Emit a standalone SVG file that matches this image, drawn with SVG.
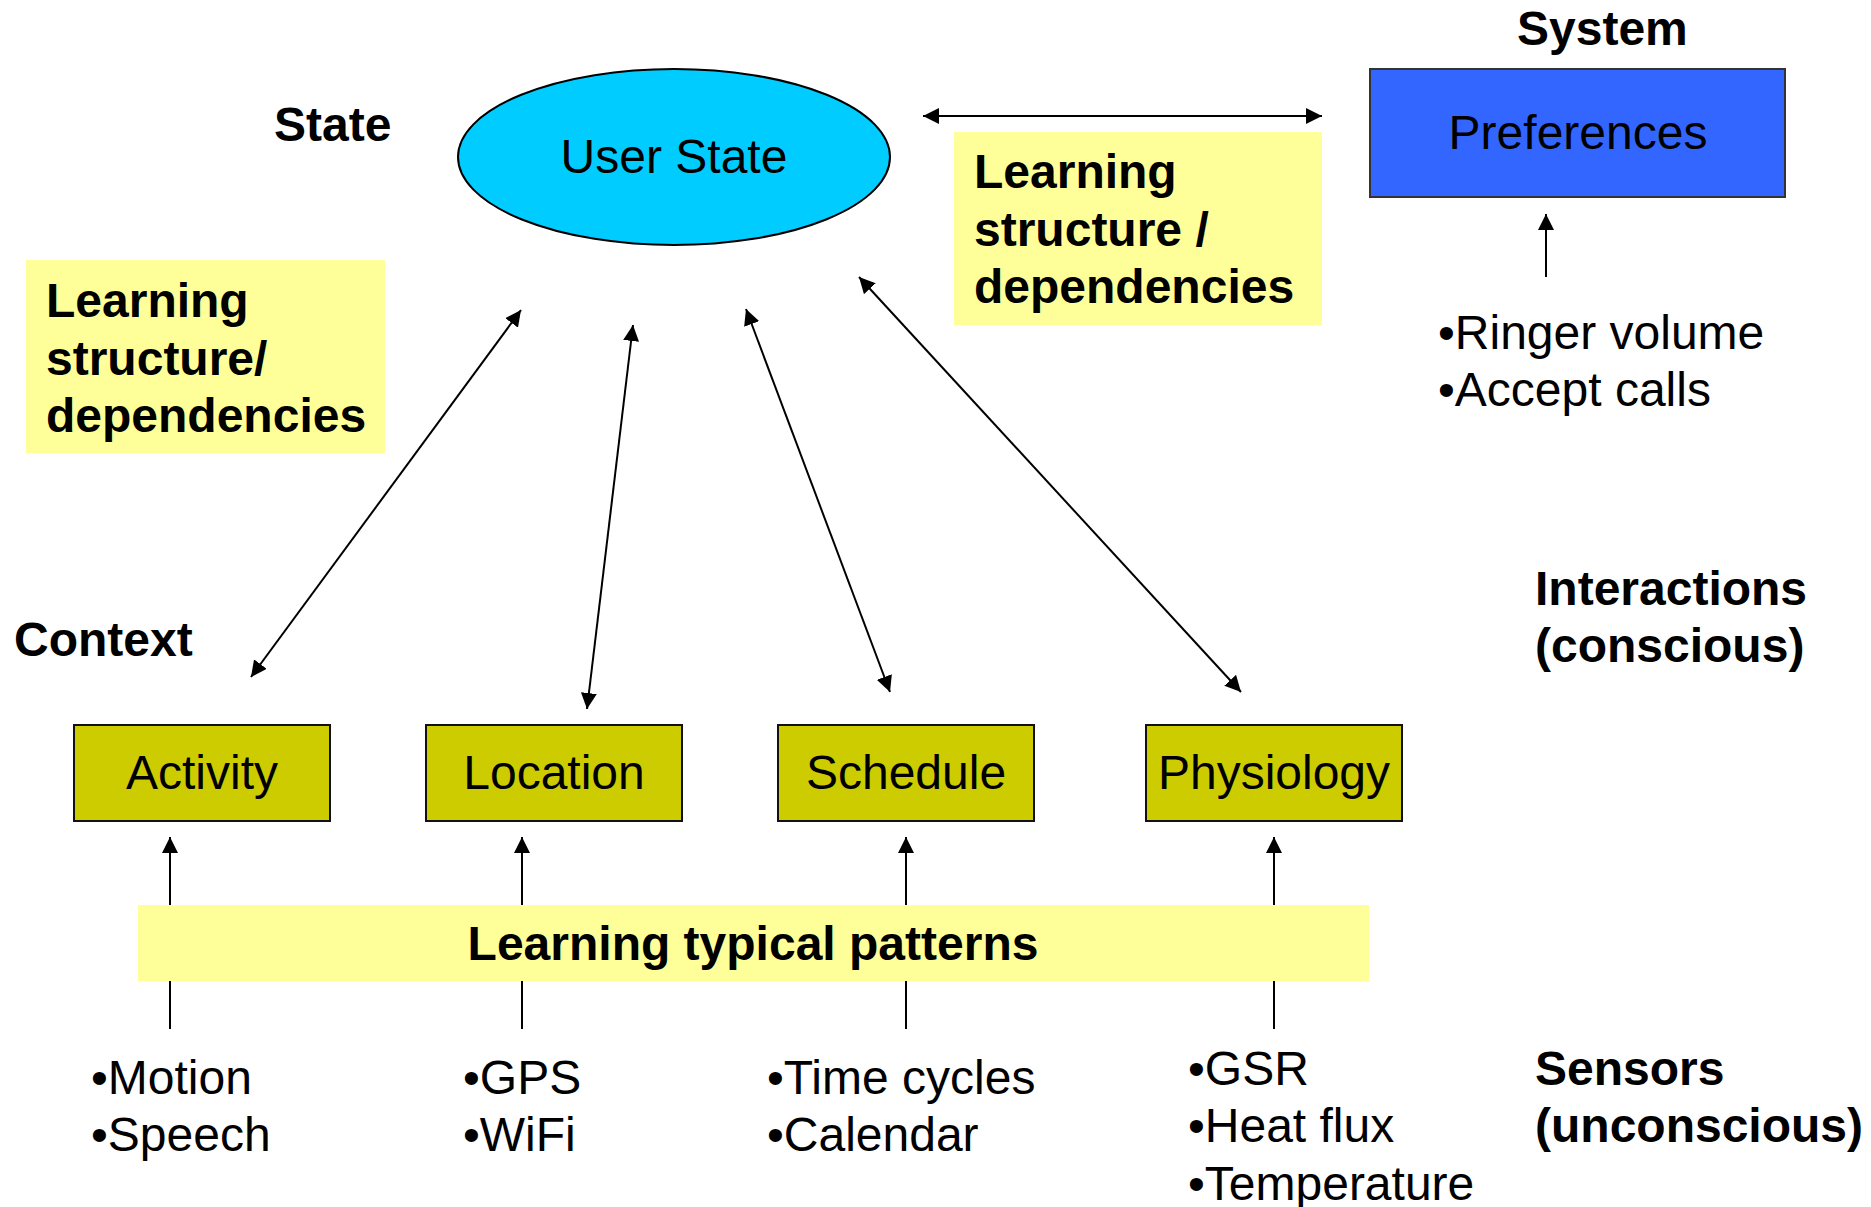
<svg xmlns="http://www.w3.org/2000/svg" width="1871" height="1207" viewBox="0 0 1871 1207">
  <style>
    text { font-family: "Liberation Sans", Arial, sans-serif; fill: #000; }
    .b { font-weight: bold; font-size: 48px; }
    .r { font-size: 48px; }
    .mid { text-anchor: middle; }
    .note { fill: #FFFF99; }
    .ctx { fill: #CCCC00; stroke: #111; stroke-width: 2; }
    .conn line { stroke: #000; stroke-width: 2; fill: none; }
  </style>
  <defs>
    <marker id="ah" viewBox="0 0 16 16" refX="16" refY="8" markerWidth="16" markerHeight="16" markerUnits="userSpaceOnUse" orient="auto-start-reverse">
      <path d="M0,0 L16,8 L0,16 z" fill="#000"/>
    </marker>
  </defs>
  <rect width="1871" height="1207" fill="#fff"/>

  <!-- level labels -->
  <g id="labels">
    <text class="b" x="274" y="141">State</text>
    <text class="b" x="1517" y="45">System</text>
    <text class="b" x="14" y="656">Context</text>
    <text class="b" x="1535" y="605">Interactions</text>
    <text class="b" x="1535" y="662">(conscious)</text>
    <text class="b" x="1535" y="1085">Sensors</text>
    <text class="b" x="1535" y="1142">(unconscious)</text>
  </g>

  <!-- connectors -->
  <g id="connectors" class="conn">
    <line x1="923" y1="116" x2="1322" y2="116" marker-start="url(#ah)" marker-end="url(#ah)"/>
    <line x1="521" y1="310" x2="251" y2="677" marker-start="url(#ah)" marker-end="url(#ah)"/>
    <line x1="633" y1="325" x2="587" y2="709" marker-start="url(#ah)" marker-end="url(#ah)"/>
    <line x1="746" y1="309" x2="890" y2="692" marker-start="url(#ah)" marker-end="url(#ah)"/>
    <line x1="859" y1="277" x2="1241" y2="692" marker-start="url(#ah)" marker-end="url(#ah)"/>
    <line x1="1546" y1="277" x2="1546" y2="214" marker-end="url(#ah)"/>
    <line x1="170" y1="1029" x2="170" y2="837" marker-end="url(#ah)"/>
    <line x1="522" y1="1029" x2="522" y2="837" marker-end="url(#ah)"/>
    <line x1="906" y1="1029" x2="906" y2="837" marker-end="url(#ah)"/>
    <line x1="1274" y1="1029" x2="1274" y2="837" marker-end="url(#ah)"/>
  </g>

  <g id="user-state">
    <ellipse cx="674" cy="157" rx="216" ry="88" fill="#00CCFF" stroke="#000" stroke-width="2"/>
    <text class="r mid" x="674" y="173">User State</text>
  </g>

  <g id="preferences">
    <rect x="1370" y="69" width="415" height="128" fill="#3366FF" stroke="#333" stroke-width="2"/>
    <text class="r mid" x="1578" y="149">Preferences</text>
  </g>

  <g id="learning-structure-left">
    <rect class="note" x="26" y="260" width="359" height="193"/>
    <text class="b" x="46" y="317">Learning</text>
    <text class="b" x="46" y="375">structure/</text>
    <text class="b" x="46" y="432">dependencies</text>
  </g>

  <g id="learning-structure-right">
    <rect class="note" x="954" y="132" width="368" height="193"/>
    <text class="b" x="974" y="188">Learning</text>
    <text class="b" x="974" y="246">structure /</text>
    <text class="b" x="974" y="303">dependencies</text>
  </g>

  <g id="system-inputs">
    <text class="r" x="1438" y="349">•Ringer volume</text>
    <text class="r" x="1438" y="406">•Accept calls</text>
  </g>

  <g id="activity">
    <rect class="ctx" x="74" y="725" width="256" height="96"/>
    <text class="r mid" x="202" y="789">Activity</text>
  </g>
  <g id="location">
    <rect class="ctx" x="426" y="725" width="256" height="96"/>
    <text class="r mid" x="554" y="789">Location</text>
  </g>
  <g id="schedule">
    <rect class="ctx" x="778" y="725" width="256" height="96"/>
    <text class="r mid" x="906" y="789">Schedule</text>
  </g>
  <g id="physiology">
    <rect class="ctx" x="1146" y="725" width="256" height="96"/>
    <text class="r mid" x="1274" y="789">Physiology</text>
  </g>

  <g id="learning-patterns">
    <rect class="note" x="138" y="905" width="1231" height="76"/>
    <text class="b mid" x="753" y="960">Learning typical patterns</text>
  </g>

  <g id="sensors">
    <text class="r" x="91" y="1094">•Motion</text>
    <text class="r" x="91" y="1151">•Speech</text>
    <text class="r" x="463" y="1094">•GPS</text>
    <text class="r" x="463" y="1151">•WiFi</text>
    <text class="r" x="767" y="1094">•Time cycles</text>
    <text class="r" x="767" y="1151">•Calendar</text>
    <text class="r" x="1188" y="1085">•GSR</text>
    <text class="r" x="1188" y="1142">•Heat flux</text>
    <text class="r" x="1188" y="1200">•Temperature</text>
  </g>
</svg>
